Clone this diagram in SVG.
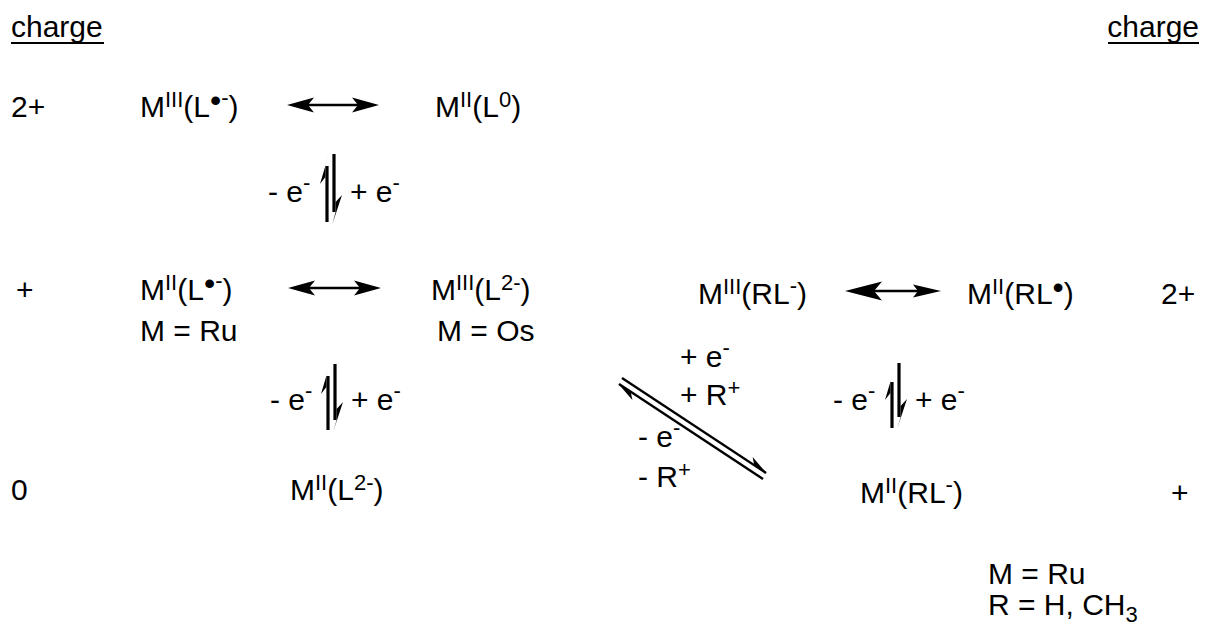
<svg xmlns="http://www.w3.org/2000/svg" width="1209" height="625" viewBox="0 0 1209 625">
  <defs>
    <style>
      text { font-family: "Liberation Sans", Arial, sans-serif; font-size: 30px; fill: #000; }
      .sup { font-size: 22px; }
      .dot { font-size: 32px; }
      .ln { stroke: #000; stroke-width: 2.4; fill: none; }
      .thick { stroke: #000; stroke-width: 3.2; fill: none; }
      .head { fill: #000; stroke: none; }
      .ul { stroke: #000; stroke-width: 2; }
    </style>
  </defs>
  <rect width="1209" height="625" fill="#fff"/>

  <!-- column headers -->
  <g id="charge-left">
    <text x="11" y="37">charge</text>
    <line class="ul" x1="11" y1="43" x2="104" y2="43"/>
  </g>
  <g id="charge-right">
    <text x="1199" y="37" text-anchor="end">charge</text>
    <line class="ul" x1="1108" y1="43" x2="1199" y2="43"/>
  </g>

  <!-- charge values -->
  <g id="charge-values">
    <text x="11" y="117">2+</text>
    <text x="16" y="300">+</text>
    <text x="11" y="500">0</text>
    <text x="1161" y="304">2+</text>
    <text x="1171" y="503">+</text>
  </g>

  <!-- left scheme: species -->
  <g id="n-MIII-Lrad">
    <text x="140" y="117">M<tspan class="sup" dy="-10">III</tspan><tspan dy="10">(L</tspan><tspan class="dot" dy="-6">•</tspan><tspan class="sup" dy="-6">-</tspan><tspan dy="12">)</tspan></text>
  </g>
  <g id="n-MII-L0">
    <text x="435" y="117">M<tspan class="sup" dy="-10">II</tspan><tspan dy="10">(L</tspan><tspan class="sup" dy="-10">0</tspan><tspan dy="10">)</tspan></text>
  </g>
  <g id="n-MII-Lrad">
    <text x="140" y="300">M<tspan class="sup" dy="-10">II</tspan><tspan dy="10">(L</tspan><tspan class="dot" dy="-6">•</tspan><tspan class="sup" dy="-6">-</tspan><tspan dy="12">)</tspan></text>
    <text x="140" y="341">M = Ru</text>
  </g>
  <g id="n-MIII-L2">
    <text x="431" y="300">M<tspan class="sup" dy="-10">III</tspan><tspan dy="10">(L</tspan><tspan class="sup" dy="-10">2-</tspan><tspan dy="10">)</tspan></text>
    <text x="437" y="341">M = Os</text>
  </g>
  <g id="n-MII-L2">
    <text x="290" y="500">M<tspan class="sup" dy="-10">II</tspan><tspan dy="10">(L</tspan><tspan class="sup" dy="-10">2-</tspan><tspan dy="10">)</tspan></text>
  </g>

  <!-- right scheme: species -->
  <g id="n-MIII-RL">
    <text x="698" y="304">M<tspan class="sup" dy="-10">III</tspan><tspan dy="10">(RL</tspan><tspan class="sup" dy="-11">-</tspan><tspan dy="11">)</tspan></text>
  </g>
  <g id="n-MII-RLrad">
    <text x="967" y="304">M<tspan class="sup" dy="-10">II</tspan><tspan dy="10">(RL</tspan><tspan class="dot" dy="-6">•</tspan><tspan dy="6">)</tspan></text>
  </g>
  <g id="n-MII-RL">
    <text x="860" y="503">M<tspan class="sup" dy="-10">II</tspan><tspan dy="10">(RL</tspan><tspan class="sup" dy="-11">-</tspan><tspan dy="11">)</tspan></text>
  </g>
  <g id="legend-right">
    <text x="988" y="584">M = Ru</text>
    <text x="988" y="615">R = H, CH<tspan class="sup" dy="7">3</tspan></text>
  </g>

  <!-- reaction labels -->
  <g id="labels">
    <text x="268" y="202">- e<tspan class="sup" dy="-12">-</tspan></text>
    <text x="350" y="202">+ e<tspan class="sup" dy="-12">-</tspan></text>
    <text x="270" y="410">- e<tspan class="sup" dy="-12">-</tspan></text>
    <text x="351" y="410">+ e<tspan class="sup" dy="-12">-</tspan></text>
    <text x="833" y="410">- e<tspan class="sup" dy="-12">-</tspan></text>
    <text x="915" y="410">+ e<tspan class="sup" dy="-12">-</tspan></text>
    <text x="680" y="367">+ e<tspan class="sup" dy="-12">-</tspan></text>
    <text x="680" y="405">+ R<tspan class="sup" dy="-10">+</tspan></text>
    <text x="638" y="447">- e<tspan class="sup" dy="-12">-</tspan></text>
    <text x="638" y="487">- R<tspan class="sup" dy="-10">+</tspan></text>
  </g>

  <!-- connectors -->
  <g id="connectors">
    <!-- resonance arrows -->
    <line class="ln" x1="300" y1="105" x2="366" y2="105"/>
    <path class="head" d="M287,105 L314,97.5 L308,105 L314,112.5 Z"/>
    <path class="head" d="M379,105 L352,97.5 L358,105 L352,112.5 Z"/>

    <line class="ln" x1="300" y1="288" x2="368" y2="288"/>
    <path class="head" d="M288,288 L315,280.5 L309,288 L315,295.5 Z"/>
    <path class="head" d="M381,288 L354,280.5 L360,288 L354,295.5 Z"/>

    <line class="ln" x1="860" y1="291" x2="930" y2="291"/>
    <path class="head" d="M845,291 L882,281.5 L874,291 L882,300.5 Z"/>
    <path class="head" d="M941,291 L913,284.5 L918,291 L913,297.5 Z"/>

    <!-- vertical equilibrium arrows, left column, top -->
    <line class="thick" x1="327" y1="166" x2="327" y2="222"/>
    <path class="head" d="M328.6,155 L320,184 L325.4,177 L325.4,166 Z"/>
    <line class="thick" x1="334" y1="154" x2="334" y2="212"/>
    <path class="head" d="M332.4,224 L342,195 L335.6,202 L335.6,212 Z"/>

    <!-- vertical equilibrium arrows, left column, bottom -->
    <line class="thick" x1="328" y1="376" x2="328" y2="430"/>
    <path class="head" d="M329.6,365 L321,394 L326.4,387 L326.4,376 Z"/>
    <line class="thick" x1="335" y1="364" x2="335" y2="420"/>
    <path class="head" d="M333.4,431 L343,402 L336.6,409 L336.6,420 Z"/>

    <!-- vertical equilibrium arrows, right column -->
    <line class="thick" x1="892" y1="382" x2="892" y2="428"/>
    <path class="head" d="M893.6,371 L885,400 L890.4,393 L890.4,382 Z"/>
    <line class="thick" x1="899" y1="363" x2="899" y2="417"/>
    <path class="head" d="M897.4,428 L907,399 L900.6,406 L900.6,417 Z"/>

    <!-- diagonal equilibrium arrows -->
    <line class="ln" x1="622" y1="378" x2="766" y2="473"/>
    <path class="head" d="M767,473.6 L752.6,457 L754.3,465.3 Z"/>
    <line class="ln" x1="619" y1="384" x2="763" y2="479"/>
    <path class="head" d="M618,383.4 L632.4,400 L630.7,391.7 Z"/>
  </g>
</svg>
